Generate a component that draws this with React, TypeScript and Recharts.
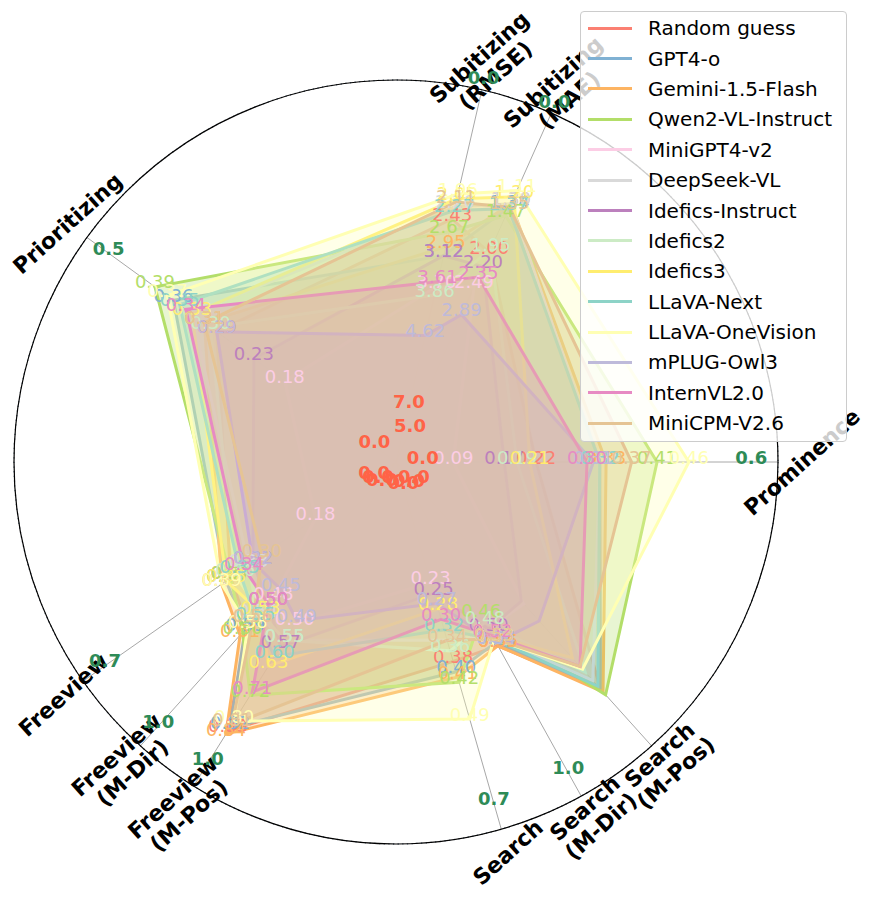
import React from 'react';
import { RadarChart, Radar, PolarGrid, PolarAngleAxis, PolarRadiusAxis, Legend } from 'recharts';

// axes, clockwise from 12 o'clock
const axisNames = [
  'Subitizing\n(RMSE)', 'Subitizing\n(MAE)', 'Prominence', 'Search\n(M-Pos)', 'Search\n(M-Dir)',
  'Search', 'Freeview\n(M-Pos)', 'Freeview\n(M-Dir)', 'Freeview', 'Prioritizing',
];
const axisAngles = [13, 24, 90, 138, 151, 164, 212, 222, 235, 306];
const axisLow = [7.0, 5.0, 0.0, 0.0, 0.0, 0.0, 0.0, 0.0, 0.0, 0.0];
const axisHigh = [0.0, 0.0, 0.6, 1.0, 1.0, 0.7, 1.0, 1.0, 0.7, 0.5];
const axisLabelled = [true, true, true, false, true, true, true, true, true, true];

const modelNames = [
  'Random guess', 'GPT4-o', 'Gemini-1.5-Flash', 'Qwen2-VL-Instruct', 'MiniGPT4-v2', 'DeepSeek-VL',
  'Idefics-Instruct', 'Idefics2', 'Idefics3', 'LLaVA-Next', 'LLaVA-OneVision', 'mPLUG-Owl3',
  'InternVL2.0', 'MiniCPM-V2.6',
];
const modelColors = [
  '#fb8072', '#80b1d3', '#fdb462', '#b3de69', '#fccde5', '#d9d9d9', '#bc80bd',
  '#ccebc5', '#ffed6f', '#8dd3c7', '#ffffb3', '#bebada', '#e78ac3', '#e5c494',
];

// RMSE, MAE, Prominence, Search M-Pos, Search M-Dir, Search, Freeview M-Pos, Freeview M-Dir, Freeview, Prioritizing
const randomGuess = [2.43, 2.0, 0.22, 0.8, 0.55, 0.38, 0.83, 0.58, 0.37, 0.29];
const gpt4o = [3.12, 1.34, 0.32, 0.8, 0.54, 0.4, 0.82, 0.59, 0.38, 0.36];
const gemini = [2.95, 1.3, 0.33, 0.81, 0.55, 0.41, 0.84, 0.61, 0.39, 0.31];
const qwen2vl = [2.67, 1.47, 0.41, 0.82, 0.46, 0.42, 0.72, 0.6, 0.37, 0.39];
const minigpt4 = [3.7, 2.49, 0.09, 0.5, 0.5, 0.23, 0.5, 0.48, 0.18, 0.18];
const deepseek = [2.2, 1.3, 0.32, 0.77, 0.52, 0.34, 0.55, 0.54, 0.33, 0.33];
const ideficsInstruct = [3.12, 2.2, 0.17, 0.49, 0.5, 0.25, 0.57, 0.5, 0.32, 0.23];
const idefics2 = [3.86, 1.95, 0.19, 0.74, 0.48, 0.36, 0.55, 0.53, 0.36, 0.3];
const idefics3 = [2.05, 1.2, 0.21, 0.69, 0.52, 0.28, 0.63, 0.53, 0.38, 0.33];
const llavaNext = [2.27, 1.37, 0.32, 0.79, 0.53, 0.32, 0.6, 0.55, 0.35, 0.35];
const llavaOneVision = [1.96, 1.11, 0.46, 0.73, 0.53, 0.49, 0.8, 0.58, 0.39, 0.37];
const mplugOwl3 = [4.62, 2.89, 0.31, 0.56, 0.54, 0.27, 0.49, 0.45, 0.32, 0.29];
const internvl2 = [3.61, 2.35, 0.3, 0.72, 0.52, 0.3, 0.71, 0.5, 0.34, 0.34];
const minicpm = [2.11, 1.35, 0.37, 0.72, 0.53, 0.34, 0.81, 0.56, 0.3, 0.31];

const modelScores = [
  randomGuess, gpt4o, gemini, qwen2vl, minigpt4, deepseek, ideficsInstruct,
  idefics2, idefics3, llavaNext, llavaOneVision, mplugOwl3, internvl2, minicpm,
];

const W = 856;
const H = 882;
const CX = 388;
const CY = 454;
const R = 382;
const FONT = '"DejaVu Sans", sans-serif';

const chartData = axisNames.map((name, i) => {
  const inverted = axisLow[i] > axisHigh[i];
  const row: Record<string, any> = {
    axis: name,
    angle: axisAngles[i],
    nameAt: 406 / R,
    highAt: inverted ? 1.02 : 0.93,
    // the two inverted subitizing axes carry their red labels further out
    lowAt: inverted ? (i === 0 ? 0.15 : 0.09) : 0.07,
  };
  modelScores.forEach((s, k) => {
    row[`m${k}`] = (s[i] - axisLow[i]) / (axisHigh[i] - axisLow[i]);
  });
  return row;
});

const idx = (p: any) => (typeof p.index === 'number' ? p.index : axisAngles.indexOf(p.payload?.name));

const valueDot = (k: number) => (p: any) => {
  const i = idx(p);
  if (!axisLabelled[i]) return <g key={`v${k}-${i}`} />;
  return (
    <text key={`v${k}-${i}`} x={p.cx} y={p.cy - 5} textAnchor="middle" dominantBaseline="central"
      fontSize={18} fontFamily={FONT} fill={modelColors[k]}>
      {modelScores[k][i].toFixed(2)}
    </text>
  );
};

const lowDot = (p: any) => {
  const i = idx(p);
  return (
    <text key={`lo${i}`} x={p.cx} y={p.cy - 5} textAnchor="middle" dominantBaseline="central"
      fontSize={18} fontWeight="bold" fontFamily={FONT} fill="#ff6347">
      {axisLow[i].toFixed(1)}
    </text>
  );
};

const highDot = (p: any) => {
  const i = idx(p);
  if (!axisLabelled[i]) return <g key={`hi${i}`} />;
  return (
    <text key={`hi${i}`} x={p.cx} y={p.cy - 5} textAnchor="middle" dominantBaseline="central"
      fontSize={18} fontWeight="bold" fontFamily={FONT} fill="#2e8b57">
      {axisHigh[i].toFixed(1)}
    </text>
  );
};

const nameDot = (p: any) => {
  const i = idx(p);
  const lines = axisNames[i].split('\n');
  const x = p.cx;
  const y = p.cy;
  return (
    <text key={`nm${i}`} x={x} y={y} transform={`rotate(-42 ${x} ${y})`} textAnchor="middle"
      fontSize={22} fontWeight="bold" fontFamily={FONT} fill="#000">
      {lines.map((l, k) => (
        <tspan key={k} x={x} dy={k === 0 ? `${0.35 - (lines.length - 1) * 0.55}em` : '1.1em'}>{l}</tspan>
      ))}
    </text>
  );
};

const LegendBox = () => (
  <div style={{
    width: 267, height: 431, boxSizing: 'border-box', border: '1px solid #cccccc', borderRadius: 4,
    background: 'rgba(255,255,255,0.8)', paddingTop: 1, fontFamily: FONT,
  }}>
    {modelNames.map((m, k) => (
      <div key={m} style={{ display: 'flex', alignItems: 'center', height: 30.4 }}>
        <div style={{ width: 44, height: 3, marginLeft: 7, background: modelColors[k] }} />
        <span style={{ marginLeft: 16, fontSize: 20, color: '#000', whiteSpace: 'nowrap' }}>{m}</span>
      </div>
    ))}
  </div>
);

export default function App() {
  return (
    <div style={{ width: W, height: H, position: 'relative' }}>
      <RadarChart width={W} height={H} data={chartData} cx={CX} cy={CY} outerRadius={R}
        margin={{ top: 0, right: 0, bottom: 0, left: 0 }}>
        <PolarGrid gridType="circle" radialLines={false} stroke="#5f6f80" strokeWidth={1.3} strokeDasharray="1.3 3.4" />
        <PolarGrid gridType="circle" radialLines polarRadius={[]} polarAngles={axisAngles.map((a) => 90 - a)}
          stroke="#a8a8a8" strokeWidth={1} />
        <PolarAngleAxis dataKey="angle" type="number" domain={[0, 360]} allowDataOverflow tick={false}
          tickLine={false} axisLineType="circle" stroke="#000" axisLine={{ stroke: '#000', strokeWidth: 1.2 }} />
        <PolarRadiusAxis type="number" domain={[0, 1]} allowDataOverflow tick={false} axisLine={false} tickCount={6} />
        <Radar dataKey="nameAt" stroke="none" fill="none" dot={nameDot} isAnimationActive={false} />
        <Radar dataKey="highAt" stroke="none" fill="none" dot={highDot} isAnimationActive={false} />
        {modelNames.map((m, k) => (
          <Radar key={m} name={m} dataKey={`m${k}`} stroke={modelColors[k]} strokeWidth={3}
            fill={modelColors[k]} fillOpacity={0.3} dot={valueDot(k)} isAnimationActive={false} />
        ))}
        <Radar dataKey="lowAt" stroke="none" fill="none" dot={lowDot} isAnimationActive={false} />
        <Legend layout="vertical" align="right" verticalAlign="top"
          wrapperStyle={{ left: 572, top: 3, right: 'auto', width: 267 }} content={() => <LegendBox />} />
      </RadarChart>
    </div>
  );
}
